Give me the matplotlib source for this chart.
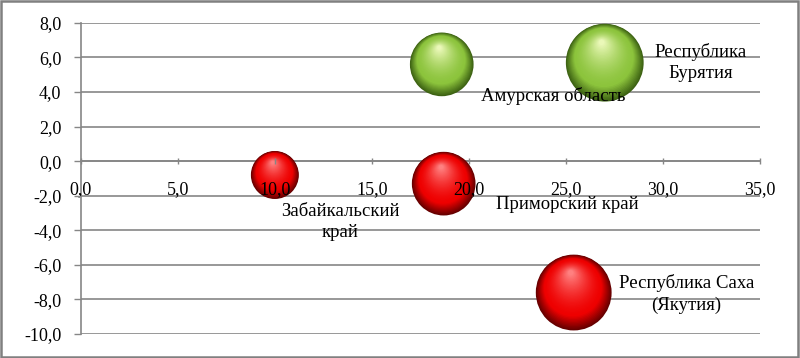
import numpy as np
import matplotlib.pyplot as plt
from matplotlib.transforms import ScaledTranslation
from matplotlib.ticker import FuncFormatter, MultipleLocator

plt.rcParams.update({
    'font.family': ['Liberation Serif', 'DejaVu Serif'],
    'font.size': 13,
})

# Data
regions = ['Забайкальский\nкрай', 'Приморский край', 'Амурская область',
           'Республика\nБурятия', 'Республика Саха\n(Якутия)']
x_vals = [10.0, 18.7, 18.6, 27.0, 25.4]
y_vals = [-0.8, -1.3, 5.6, 5.7, -7.6]
sizes = [3.8, 6.7, 6.7, 10.0, 9.5]
groups = ['neg', 'neg', 'pos', 'pos', 'neg']
# label offsets from bubble centre, points
label_dx = [47, 89, 80, 69, 81]
label_dy = [-34, -15, -23, 0, -1]

x_ticks = np.arange(0, 36, 5)
y_ticks = np.arange(-10, 9, 2)

PALETTE = {
    'neg': ('#660000', '#ee0000', '#ff8080'),
    'pos': ('#3d6213', '#8cc43c', '#eaf8b8'),
}
GRID = '#868686'


def comma(v, _):
    return f'{v:.1f}'.replace('.', ',')


def blend(c1, c2, t):
    a = np.array(plt.matplotlib.colors.to_rgb(c1))
    b = np.array(plt.matplotlib.colors.to_rgb(c2))
    return tuple(a + (b - a) * t)


fig = plt.figure(figsize=(8, 3.58), dpi=100)
ax = fig.add_axes([0.101, 0.067, 0.849, 0.869])
ax.set_xlim(0, 35)
ax.set_ylim(-10, 8)

for yv in y_ticks:
    ax.axhline(yv, color=GRID, lw=1.2, zorder=0.5)

for side in ['top', 'right']:
    ax.spines[side].set_visible(False)
ax.spines['bottom'].set_position(('data', 0))
for side in ['left', 'bottom']:
    ax.spines[side].set_color(GRID)
    ax.spines[side].set_linewidth(1.2)
    ax.spines[side].set_zorder(0.6)

ax.xaxis.set_major_locator(MultipleLocator(5))
ax.yaxis.set_major_locator(MultipleLocator(2))
ax.xaxis.set_major_formatter(FuncFormatter(comma))
ax.yaxis.set_major_formatter(FuncFormatter(comma))
ax.tick_params(axis='x', direction='inout', length=5, width=1, color=GRID, pad=12,
               labelsize=13)
ax.tick_params(axis='y', direction='out', length=5, width=1, color=GRID, pad=9,
               labelsize=13)

# bubble diameter: largest ~ 1/4 of the plot height
plot_h_pt = ax.get_position().height * fig.get_figheight() * 72
max_d = 0.25 * plot_h_pt
max_size = max(sizes)

n_layers = 40
for x, y, sz, g in zip(x_vals, y_vals, sizes, groups):
    d = max_d * np.sqrt(sz / max_size)
    dark, mid, light = PALETTE[g]
    for k in range(n_layers):
        t = k / (n_layers - 1)
        f = 1 - 0.93 * t
        if t < 0.25:
            c = blend(dark, mid, t / 0.25)
        else:
            c = blend(mid, light, ((t - 0.25) / 0.75) ** 1.6)
        off = ScaledTranslation(-0.04 * d * t / 72, 0.26 * d * t / 72, fig.dpi_scale_trans)
        ax.scatter([x], [y], s=(d * f) ** 2, color=c, edgecolors='none',
                   transform=ax.transData + off, zorder=1, clip_on=False)

for lab, x, y, dx, dy in zip(regions, x_vals, y_vals, label_dx, label_dy):
    ax.annotate(lab, (x, y), xytext=(dx, dy), textcoords='offset points',
                ha='center', va='center', fontsize=13.5, multialignment='center',
                linespacing=1.3, zorder=3)

fig.patches.append(plt.Rectangle((0.001, 0.003), 0.997, 0.994, transform=fig.transFigure,
                                 fill=False, ec='#808080', lw=1.8))

fig.savefig('out.png', dpi=100)
